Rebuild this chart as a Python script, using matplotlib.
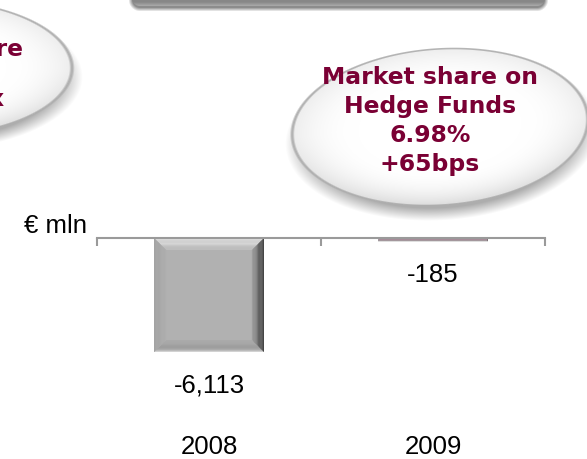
import numpy as np
import matplotlib
matplotlib.use("Agg")
import matplotlib.pyplot as plt
from matplotlib.patches import Polygon
from matplotlib.ticker import FixedLocator, NullFormatter

# ---- data ----
years = ["2008", "2009"]
net_flows = [-6113, -185]          # € mln
value_labels = ["-6,113", "-185"]
bar_colors = ["#b1b1b1", "#a68c98"]
bubble_lines = ["Market share on", "Hedge Funds", "6.98%", "+65bps"]
unit_label = "€ mln"

W, H = 587, 459
DPI = 100
fig = plt.figure(figsize=(W / DPI, H / DPI), dpi=DPI)

# ---- background layer in pixel coordinates (bubbles, header box) ----
bg = fig.add_axes([0, 0, 1, 1])
bg.set_xlim(0, W)
bg.set_ylim(H, 0)
bg.axis("off")

yy, xx = np.mgrid[0:H, 0:W] + 0.5
img = np.ones((H, W, 3))


def ell_r(cx, cy, a, b, ang_deg):
    t = np.deg2rad(ang_deg)
    dx, dy = xx - cx, yy - cy
    u = dx * np.cos(t) + dy * np.sin(t)
    v = -dx * np.sin(t) + dy * np.cos(t)
    return np.sqrt((u / a) ** 2 + (v / b) ** 2), v / b


def bubble(cx, cy, a, b, ang):
    global img
    # soft drop shadow below
    rs, _ = ell_r(cx + 2, cy + 9, a * 1.0, b * 1.02, ang)
    sh = 0.32 * np.clip((1.06 - rs) / 0.16, 0, 1)
    img = img * (1 - sh[..., None])
    r, vn = ell_r(cx, cy, a, b, ang)
    inside = r < 1.0
    # white centre, greyer towards the rim (more so on the lower half)
    rim = np.clip((r - 0.55) / 0.45, 0, 1) ** 2
    shade = 1 - rim * (0.07 + 0.07 * np.clip(vn, 0, 1))
    img[inside] = np.clip(shade, 0, 1)[inside][:, None] * np.ones(3)
    # outline
    d = np.abs(r - 1.0) * min(a, b)
    edge = np.clip(1.3 - d, 0, 1) * 0.9
    col = np.array([0.68, 0.68, 0.68])
    img = img * (1 - edge[..., None]) + col * edge[..., None]


bubble(-74, 68, 146, 68, 0)
bubble(440, 127, 148, 78, -4)

# header box at the top (mostly off the page)
x0, x1, yb, rad = 132, 545, 6, 8
cxr = np.clip(xx, x0 + rad, x1 - rad)
dist = np.sqrt((xx - cxr) ** 2 + (yy - np.minimum(yy, yb - rad)) ** 2) - rad
dist_sh = np.sqrt((xx - cxr) ** 2 + (yy - np.minimum(yy, yb + 2 - rad)) ** 2) - rad
shb = 0.45 * np.clip((3.5 - dist_sh) / 4, 0, 1)
img = img * (1 - shb[..., None])
inside_box = np.clip(0.5 - dist, 0, 1)
g = 0.53 + 0.14 * np.clip((yy - (yb - 4)) / 4, 0, 1)
img = img * (1 - inside_box[..., None]) + (g * inside_box)[..., None] * np.ones(3)

bg.imshow(np.clip(img, 0, 1), extent=(0, W, H, 0), interpolation="bilinear", zorder=0)

# bubble text
maroon = "#7a0034"
bfont = dict(family="DejaVu Sans", weight="bold", fontsize=16.9, color=maroon,
             ha="center", va="center")
for i, line in enumerate(bubble_lines):
    bg.text(430, 78 + 29 * i, line, **bfont)
bg.text(23, 49, "Market share", **{**bfont, "ha": "right"})
bg.text(4.5, 100, "Index", **{**bfont, "ha": "right"})

bg.text(87, 226, unit_label, family="Liberation Sans", fontsize=18.5,
        ha="right", va="center", color="black")

# ---- chart ----
left, right, top = 97, 545, 238
ax = fig.add_axes([left / W, 0, (right - left) / W, 1 - top / H])
ax.set_xlim(-0.5, 1.5)
px_per_unit = 114 / 6113
ax.set_ylim(-(H - top) / px_per_unit, 0)

xs = np.arange(len(years))
bars = ax.bar(xs, net_flows, width=0.49, color=bar_colors, zorder=2,
              linewidth=0)

# bevelled edges, sized in pixels and converted to data units
ux = 2.0 / (right - left)      # data units per pixel, x
uy = 1.0 / px_per_unit         # data units per pixel, y


def lerp(c0, c1, f):
    c0 = np.array(matplotlib.colors.to_rgb(c0))
    c1 = np.array(matplotlib.colors.to_rgb(c1))
    return c0 + (c1 - c0) * f


def band(pts, color):
    ax.add_patch(Polygon(pts, closed=True, lw=0, zorder=3, color=color))


for b in bars:
    xl = b.get_x()
    xr = xl + b.get_width()
    y_top = 0
    y_bot = b.get_height()
    h_px = abs(y_bot) / uy
    t = min(12, h_px * 0.3)
    n = 10
    for k in range(n):
        f0, f1 = k / n, (k + 1) / n
        # top band (light sheen)
        band([(xl + f0 * t * ux, y_top - f0 * t * uy),
              (xr - f0 * t * ux, y_top - f0 * t * uy),
              (xr - f1 * t * ux, y_top - f1 * t * uy),
              (xl + f1 * t * ux, y_top - f1 * t * uy)],
             lerp("#e8e8e8", "#b8b8b8", f0))
        # bottom band
        band([(xl + f0 * t * ux, y_bot + f0 * t * uy),
              (xr - f0 * t * ux, y_bot + f0 * t * uy),
              (xr - f1 * t * ux, y_bot + f1 * t * uy),
              (xl + f1 * t * ux, y_bot + f1 * t * uy)],
             lerp("#d2d2d2", "#9a9a9a", min(1, f0 * 4)) if f0 < 0.25
             else lerp("#9a9a9a", "#adadad", (f0 - 0.25) / 0.75))
        # right band (dark)
        band([(xr - f0 * t * ux, y_top - f0 * t * uy),
              (xr - f1 * t * ux, y_top - f1 * t * uy),
              (xr - f1 * t * ux, y_bot + f1 * t * uy),
              (xr - f0 * t * ux, y_bot + f0 * t * uy)],
             lerp("#383838", "#a8a8a8", f0))
        # left band
        band([(xl + f0 * t * ux, y_top - f0 * t * uy),
              (xl + f1 * t * ux, y_top - f1 * t * uy),
              (xl + f1 * t * ux, y_bot + f1 * t * uy),
              (xl + f0 * t * ux, y_bot + f0 * t * uy)],
             lerp("#a2a2a2", "#afafaf", f0))
    if h_px < 10:
        # thin bar: fill centre with its own colour inside a grey rim
        ax.add_patch(Polygon([(xl + ux, y_top - uy), (xr - ux, y_top - uy),
                              (xr - ux, y_bot + uy), (xl + ux, y_bot + uy)],
                             closed=True, lw=0, zorder=4, color=b.get_facecolor()))

for x, v, lab in zip(xs, net_flows, value_labels):
    ax.annotate(lab, (x, v), xytext=(0, -22), textcoords="offset pixels",
                ha="center", va="top", family="Liberation Sans",
                fontsize=18.5, color="black")

# axis styling
ax.patch.set_alpha(0)
for s in ["left", "right", "bottom"]:
    ax.spines[s].set_visible(False)
ax.spines["top"].set_color("#9a9a9a")
ax.spines["top"].set_linewidth(1.5)
ax.spines["top"].set_zorder(5)
ax.yaxis.set_visible(False)
ax.xaxis.set_ticks_position("top")
ax.xaxis.set_major_locator(FixedLocator([-0.5, 0.5, 1.5]))
ax.xaxis.set_major_formatter(NullFormatter())
ax.tick_params(axis="x", which="major", direction="in", length=6,
               color="#9a9a9a", width=1.5)

# year labels underneath
for x, yr in zip(xs, years):
    ax.text(x, -(447 - top) * uy, yr, ha="center", va="center",
            family="Liberation Sans", fontsize=18.5, color="black")

fig.savefig("out.png", dpi=DPI)
